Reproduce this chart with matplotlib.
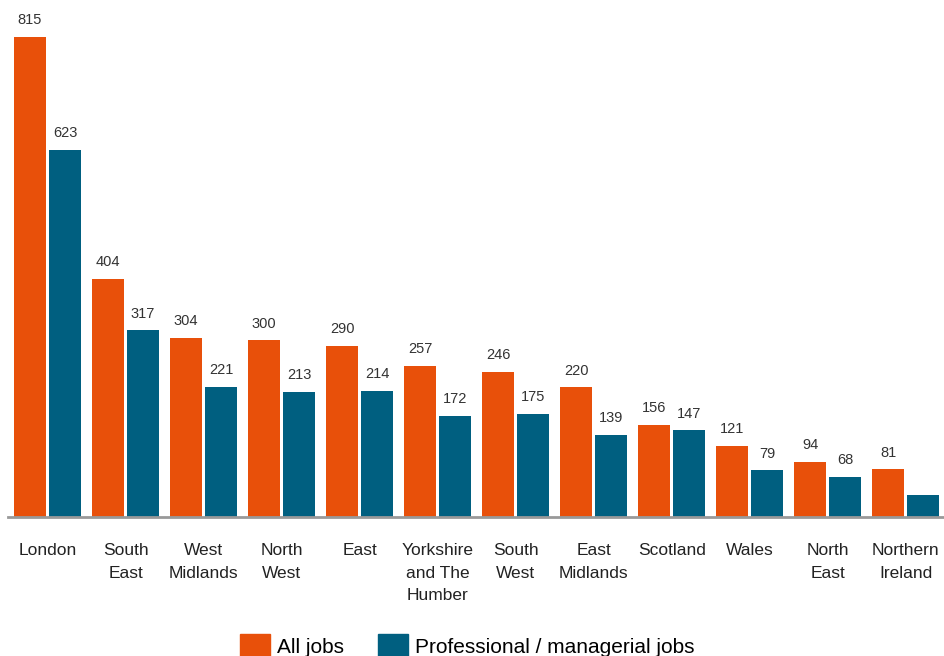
import numpy as np
import matplotlib.pyplot as plt
from matplotlib.patches import Patch

regions = ["London", "South\nEast", "West\nMidlands", "North\nWest", "East",
           "Yorkshire\nand The\nHumber", "South\nWest", "East\nMidlands",
           "Scotland", "Wales", "North\nEast", "Northern\nIreland"]
all_jobs = [815, 404, 304, 300, 290, 257, 246, 220, 156, 121, 94, 81]
prof_jobs = [623, 317, 221, 213, 214, 172, 175, 139, 147, 79, 68, 37]
# last value has no label on the chart
prof_labels = ["623", "317", "221", "213", "214", "172", "175", "139", "147", "79", "68", ""]

orange = "#E8500A"
blue = "#005F80"

plt.rcParams['font.family'] = ['Liberation Sans', 'DejaVu Sans']

fig = plt.figure(figsize=(9.44, 6.56), dpi=100)
ax = fig.add_axes([8 / 944, (656 - 517) / 656, 936 / 944, 517 / 656])

x = np.arange(len(regions))
w = 0.41
off = 0.224
b1 = ax.bar(x - off, all_jobs, w, color=orange)
b2 = ax.bar(x + off, prof_jobs, w, color=blue)

for rect, v in zip(b1, all_jobs):
    ax.annotate(str(v), (rect.get_x() + rect.get_width() / 2, v), xytext=(0, 7),
                textcoords="offset points", ha="center", va="bottom",
                fontsize=10.5, color="#333333")
for rect, v, lab in zip(b2, prof_jobs, prof_labels):
    ax.annotate(lab, (rect.get_x() + rect.get_width() / 2, v), xytext=(0, 7),
                textcoords="offset points", ha="center", va="bottom",
                fontsize=10.5, color="#333333")

ax.set_xlim(-0.506, 11.49)
ax.set_ylim(0, 517 / (480 / 815))
ax.set_xticks(x)
ax.set_xticklabels(regions, fontsize=12.5, color="#222222", linespacing=1.62)
ax.tick_params(axis="x", length=0, pad=19)
ax.set_yticks([])
for s in ["top", "right", "left"]:
    ax.spines[s].set_visible(False)
ax.spines["bottom"].set_color("#999999")
ax.spines["bottom"].set_linewidth(2)

handles = [Patch(color=orange, label="All jobs"),
           Patch(color=blue, label="Professional / managerial jobs")]
fig.legend(handles=handles, loc="center", bbox_to_anchor=(0.495, 10 / 656),
           ncol=2, frameon=False, fontsize=15, handlelength=1.45,
           handleheight=1.35, handletextpad=0.35, columnspacing=1.6,
           borderpad=0)

fig.savefig("out.png", dpi=100)
